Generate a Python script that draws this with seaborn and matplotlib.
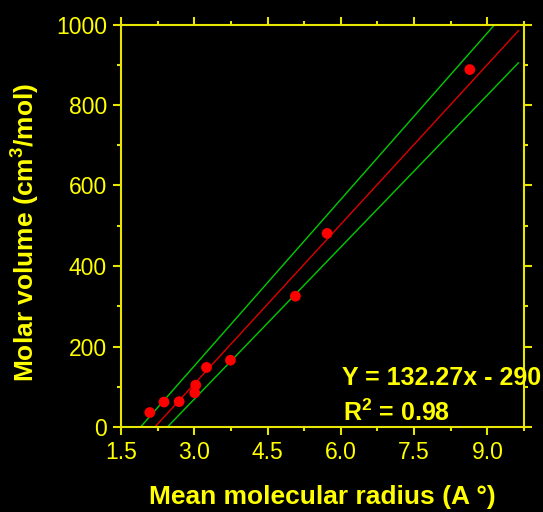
import numpy as np
import pandas as pd
import matplotlib
matplotlib.use("Agg")
import matplotlib.pyplot as plt
import seaborn as sns
from matplotlib.ticker import MultipleLocator, FormatStrFormatter, FixedLocator

# ---- data ----
radius = [2.09, 2.38, 2.69, 3.01, 3.03, 3.25, 3.74, 5.07, 5.72, 8.64]
volume = [36, 62, 63, 85, 104, 148, 166, 325, 481, 888]

fit_slope, fit_intercept = 132.27, -290.0
upper_slope, upper_intercept = 137.9, -262.0
lower_slope, lower_intercept = 125.9, -308.4
line_x_range = [1.8, 9.64]

x_ticks = [1.5, 3.0, 4.5, 6.0, 7.5, 9.0]
y_ticks = [0, 200, 400, 600, 800, 1000]

eq_text = "Y = 132.27x - 290"
r2_text = r"R$^2$ = 0.98"
x_label = "Mean molecular radius (A \u00b0)"
y_label = r"Molar volume (cm$^3$/mol)"

# ---- style ----
sns.set_theme(style="ticks")
plt.rcParams["font.family"] = ["Liberation Sans", "DejaVu Sans"]
plt.rcParams["mathtext.fontset"] = "custom"
plt.rcParams["mathtext.rm"] = "Liberation Sans:bold"
plt.rcParams["mathtext.bf"] = "Liberation Sans:bold"
plt.rcParams["mathtext.default"] = "bf"

YEL = "#FFFF00"
SPINE = "#E6E600"

fig = plt.figure(figsize=(5.43, 5.12), dpi=100, facecolor="black")
ax = fig.add_axes([121 / 543, 1 - 427 / 512, 403 / 543, 402.5 / 512])
ax.set_facecolor("black")

xs = np.linspace(line_x_range[0], line_x_range[1], 50)
lines = pd.DataFrame({
    "x": xs,
    "fit": fit_slope * xs + fit_intercept,
    "upper": upper_slope * xs + upper_intercept,
    "lower": lower_slope * xs + lower_intercept,
})
sns.lineplot(data=lines, x="x", y="upper", color="#00CC00", lw=1.0, ax=ax)
sns.lineplot(data=lines, x="x", y="lower", color="#00CC00", lw=1.0, ax=ax)
sns.lineplot(data=lines, x="x", y="fit", color="#DD0000", lw=1.0, ax=ax)

pts = pd.DataFrame({"radius": radius, "volume": volume})
sns.scatterplot(data=pts, x="radius", y="volume", color="#FF0000", s=60,
                edgecolor="none", linewidth=0, zorder=3, ax=ax)

ax.set_xlim(1.5, 9.75)
ax.set_ylim(0, 1000)
ax.xaxis.set_major_locator(FixedLocator(x_ticks))
ax.yaxis.set_major_locator(FixedLocator(y_ticks))
ax.xaxis.set_minor_locator(MultipleLocator(0.75))
ax.yaxis.set_minor_locator(MultipleLocator(100))
ax.xaxis.set_major_formatter(FormatStrFormatter("%.1f"))

for s in ax.spines.values():
    s.set_visible(True)
    s.set_color(SPINE)
    s.set_linewidth(1.5)

ax.tick_params(which="both", direction="out", top=True, right=True,
               colors=SPINE, labelcolor=YEL, width=1.5)
ax.tick_params(which="major", length=6, labelsize=16.5, pad=4)
ax.tick_params(which="minor", length=3)

ax.set_xlabel(x_label, fontsize=19, fontweight="bold", color=YEL)
ax.set_ylabel(y_label, fontsize=19, fontweight="bold", color=YEL)
ax.xaxis.set_label_coords(0.5, -0.145)
ax.yaxis.set_label_coords(-0.197, 0.483)

ax.text(0.548, 0.104, eq_text, transform=ax.transAxes, fontsize=18,
        fontweight="bold", color=YEL, va="baseline", clip_on=False)
ax.text(0.551, 0.016, r2_text, transform=ax.transAxes, fontsize=18,
        fontweight="bold", color=YEL, va="baseline", clip_on=False)

fig.savefig("out.png", dpi=100, facecolor="black")
